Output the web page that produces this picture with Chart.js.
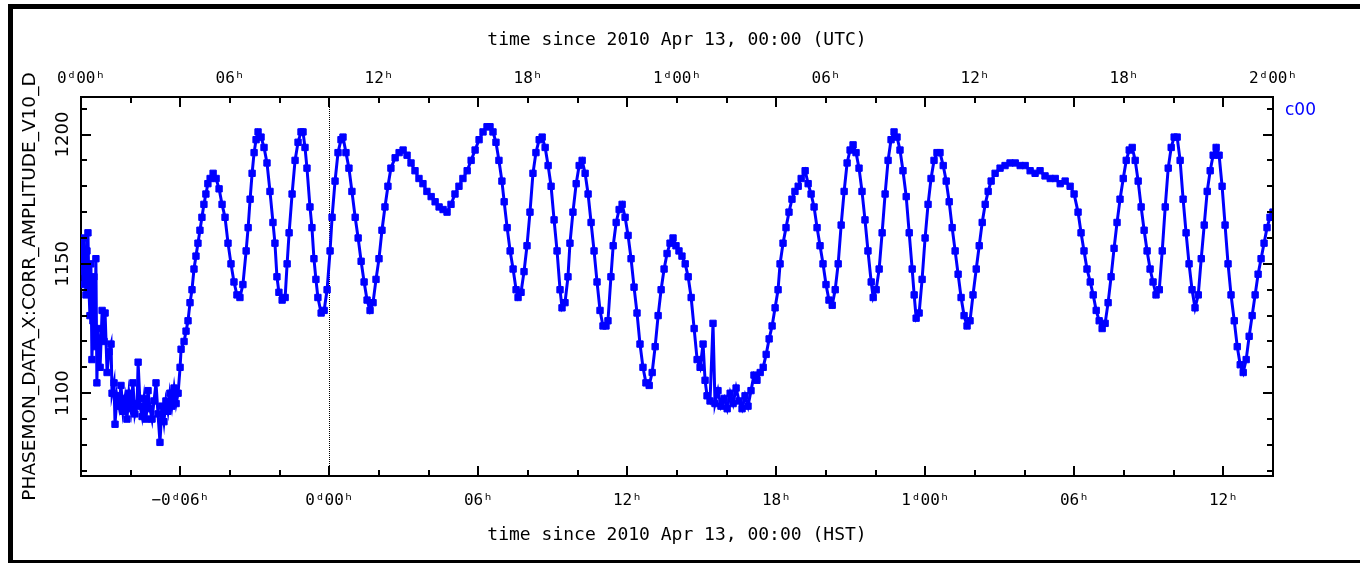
<!DOCTYPE html>
<html>
<head>
<meta charset="utf-8">
<title>PHASEMON c00 amplitude</title>
<script src="https://cdn.jsdelivr.net/npm/chart.js@4/dist/chart.umd.min.js"></script>
<style>
  html, body { margin: 0; padding: 0; background: #fff; overflow: hidden; width: 1360px; height: 563px; }
  #frame { position: absolute; left: 8px; top: 4px; width: 1360px; height: 561px; border: 5px solid #000; box-sizing: border-box; }
  #wrap { position: relative; width: 1350px; height: 551px; }
</style>
</head>
<body>
<div id="frame"><div id="wrap"><canvas id="ampChart"></canvas></div></div>
<script>
// hours since 2010 Apr 13 00:00 HST
const hstHours = [
  -10.00, -9.96, -9.92, -9.88, -9.84, -9.80, -9.76, -9.72, -9.68, -9.64,
  -9.60, -9.56, -9.52, -9.48, -9.44, -9.40, -9.36, -9.32, -9.23, -9.15,
  -9.07, -9.03, -8.95, -8.87, -8.79, -8.75, -8.67, -8.63, -8.55, -8.47,
  -8.39, -8.31, -8.23, -8.15, -8.07, -7.99, -7.91, -7.83, -7.74, -7.70,
  -7.62, -7.54, -7.46, -7.38, -7.30, -7.22, -7.14, -7.06, -6.98, -6.90,
  -6.82, -6.74, -6.66, -6.58, -6.50, -6.42, -6.34, -6.25, -6.17, -6.09,
  -6.01,
  -5.97, -5.85, -5.77, -5.69, -5.61, -5.53, -5.45, -5.37, -5.29, -5.21,
  -5.13, -5.05, -4.97, -4.89, -4.80, -4.68, -4.56, -4.44, -4.32, -4.20,
  -4.08, -3.96, -3.84, -3.72, -3.60, -3.48, -3.35, -3.27, -3.19, -3.11,
  -3.03, -2.95, -2.87, -2.75, -2.63, -2.51, -2.39, -2.27, -2.19, -2.11,
  -2.03, -1.90, -1.78, -1.70, -1.62, -1.50, -1.38, -1.26, -1.14, -1.06,
  -0.98, -0.90, -0.78, -0.70, -0.62, -0.54, -0.46, -0.33, -0.21, -0.09,
  0.03, 0.11, 0.23, 0.35, 0.47, 0.55, 0.67, 0.79, 0.91, 1.04,
  1.16, 1.28, 1.40, 1.52, 1.64, 1.76, 1.88, 2.00, 2.12, 2.24,
  2.36, 2.48, 2.65, 2.81, 2.97, 3.13, 3.29, 3.45, 3.61, 3.77,
  3.93, 4.10, 4.26, 4.42, 4.58, 4.74, 4.90, 5.06, 5.22, 5.38,
  5.55, 5.71, 5.87, 6.03, 6.19, 6.35,
  6.47, 6.59, 6.71, 6.83, 6.95, 7.04, 7.16, 7.28, 7.40, 7.52,
  7.60, 7.72, 7.84, 7.96, 8.08, 8.20, 8.32, 8.45, 8.57, 8.69,
  8.81, 8.93, 9.05, 9.17, 9.29, 9.37, 9.49, 9.61, 9.69, 9.81,
  9.94, 10.06, 10.18, 10.30, 10.42, 10.54, 10.66, 10.78, 10.90, 11.02,
  11.14, 11.22, 11.34, 11.43, 11.55, 11.67, 11.79, 11.91, 12.03, 12.15,
  12.27, 12.39, 12.51, 12.63, 12.75, 12.88, 13.00, 13.12, 13.24, 13.36,
  13.48, 13.60, 13.72, 13.84, 13.96, 14.08, 14.20, 14.33, 14.45, 14.57,
  14.69, 14.81, 14.93,
  15.05, 15.13, 15.21, 15.33, 15.45, 15.53, 15.65, 15.77, 15.90, 16.02,
  16.14, 16.26, 16.38, 16.50, 16.62, 16.74, 16.86, 16.98, 17.10, 17.22,
  17.35, 17.47, 17.59, 17.71, 17.83, 17.95, 18.07, 18.15, 18.27, 18.39,
  18.51, 18.63, 18.75, 18.88, 19.00,
  19.16, 19.28, 19.40, 19.52, 19.64, 19.76, 19.88, 20.00, 20.12, 20.25,
  20.37, 20.49, 20.61, 20.73, 20.85, 20.97, 21.09, 21.21, 21.33, 21.45,
  21.57, 21.69, 21.82, 21.90, 22.02, 22.14, 22.26, 22.38, 22.50, 22.62,
  22.74, 22.86, 22.98, 23.10, 23.23, 23.35, 23.47, 23.55, 23.63, 23.75,
  23.87, 23.99, 24.11, 24.23, 24.35, 24.47, 24.59, 24.72, 24.84, 24.96,
  25.08, 25.20, 25.32, 25.44, 25.56, 25.68, 25.80, 25.92, 26.05, 26.17,
  26.29, 26.41, 26.53, 26.65, 26.81,
  27.01, 27.21, 27.41, 27.62, 27.82, 28.02, 28.22, 28.42, 28.62, 28.82,
  29.03, 29.23, 29.43, 29.63, 29.83, 29.99, 30.15, 30.27, 30.39, 30.51,
  30.64, 30.76, 30.88, 31.00, 31.12, 31.24, 31.36, 31.48, 31.60, 31.72,
  31.84, 31.97, 32.09, 32.21, 32.33, 32.45, 32.57, 32.69, 32.81, 32.93,
  33.05, 33.17, 33.29, 33.42, 33.54, 33.66, 33.78, 33.90, 34.02, 34.14,
  34.26, 34.38, 34.50, 34.62, 34.74, 34.86, 34.99, 35.11, 35.23, 35.35,
  35.47, 35.59, 35.71, 35.83, 35.95, 36.07, 36.19, 36.31, 36.44, 36.56,
  36.68, 36.80, 36.92, 37.04, 37.16, 37.28, 37.40, 37.52, 37.64, 37.76,
  37.88, 38.00
];

// CORR_AMPLITUDE_V10_D for channel c00
const amplitude = [
  1150, 1158, 1142, 1160, 1147, 1138, 1155, 1162, 1140, 1130,
  1150, 1113, 1128, 1145, 1118, 1152, 1104, 1125, 1110, 1132,
  1120, 1131, 1108, 1116, 1119, 1100, 1104, 1088, 1099, 1095,
  1103, 1093, 1098, 1090, 1100, 1094, 1104, 1092, 1096, 1112,
  1095, 1091, 1098, 1090, 1101, 1094, 1090, 1097, 1104, 1092,
  1081, 1095, 1089, 1097, 1093, 1100, 1095, 1102, 1096, 1100,
  1110,
  1117, 1120, 1124, 1128, 1135, 1140, 1148, 1153, 1158, 1163,
  1168, 1173, 1177, 1181, 1183, 1185, 1183, 1179, 1173, 1168,
  1158, 1150, 1143, 1138, 1137, 1142, 1155, 1164, 1175, 1185,
  1193, 1198, 1201, 1199, 1195, 1189, 1178, 1166, 1158, 1145,
  1139, 1136, 1137, 1150, 1162, 1177, 1190, 1197, 1201, 1201,
  1195, 1187, 1172, 1164, 1152, 1144, 1137, 1131, 1132, 1140,
  1155, 1168, 1182, 1193, 1198, 1199, 1193, 1187, 1178, 1168,
  1160, 1151, 1143, 1136, 1132, 1135, 1144, 1152, 1163, 1172,
  1180, 1187, 1191, 1193, 1194, 1192, 1189, 1186, 1183, 1181,
  1178, 1176, 1174, 1172, 1171, 1170, 1173, 1177, 1180, 1183,
  1186, 1190, 1194, 1198, 1201, 1203,
  1203, 1201, 1197, 1190, 1182, 1174, 1164, 1155, 1148, 1140,
  1137, 1139, 1147, 1157, 1170, 1185, 1193, 1198, 1199, 1195,
  1188, 1180, 1167, 1155, 1140, 1133, 1135, 1145, 1158, 1170,
  1181, 1188, 1190, 1185, 1177, 1166, 1155, 1143, 1132, 1126,
  1126, 1128, 1145, 1157, 1166, 1171, 1173, 1168, 1161, 1152,
  1141, 1131, 1119, 1110, 1104, 1103, 1108, 1118, 1130, 1140,
  1148, 1154, 1158, 1160, 1157, 1155, 1153, 1150, 1145, 1137,
  1125, 1113, 1110,
  1119, 1105, 1099, 1097, 1127, 1096, 1101, 1095, 1098, 1094,
  1100, 1096, 1102, 1097, 1094, 1099, 1095, 1101, 1107, 1105,
  1108, 1110, 1115, 1121, 1126, 1133, 1140, 1150, 1158, 1164,
  1170, 1175, 1178, 1180, 1183,
  1186, 1181, 1177, 1172, 1164, 1157, 1150, 1142, 1136, 1134,
  1140, 1150, 1165, 1178, 1189, 1194, 1196, 1193, 1187, 1178,
  1167, 1155, 1143, 1137, 1140, 1148, 1162, 1177, 1190, 1198,
  1201, 1199, 1194, 1186, 1176, 1162, 1148, 1138, 1129, 1131,
  1144, 1160, 1173, 1183, 1190, 1193, 1193, 1188, 1182, 1174,
  1164, 1155, 1146, 1137, 1130, 1126, 1128, 1138, 1148, 1157,
  1166, 1173, 1178, 1182, 1185,
  1187, 1188, 1189, 1189, 1188, 1188, 1186, 1185, 1186, 1184,
  1183, 1183, 1181, 1182, 1180, 1177, 1170, 1162, 1155, 1148,
  1143, 1138, 1132, 1128, 1125, 1127, 1135, 1145, 1156, 1166,
  1175, 1183, 1190, 1194, 1195, 1190, 1182, 1172, 1163, 1155,
  1148, 1143, 1138, 1140, 1155, 1172, 1187, 1195, 1199, 1199,
  1190, 1175, 1162, 1150, 1140, 1133, 1138, 1152, 1165, 1178,
  1186, 1192, 1195, 1192, 1180, 1165, 1150, 1138, 1128, 1118,
  1111, 1108, 1113, 1122, 1130, 1138, 1146, 1152, 1158, 1164,
  1168, 1170
];

const seriesName = 'c00';
const markerHour = 0;   // HST midnight

// labelled hours on the bottom (HST) and top (UTC) axes
const hstTickHours = [-6, 0, 6, 12, 18, 24, 30, 36];
const hstTickLabels = ['\u22120\u1d4806\u02b0', '0\u1d4800\u02b0', '06\u02b0', '12\u02b0', '18\u02b0', '1\u1d4800\u02b0', '06\u02b0', '12\u02b0'];
const utcTickHours = [0, 6, 12, 18, 24, 30, 36, 42, 48];
const utcTickLabels = ['0\u1d4800\u02b0', '06\u02b0', '12\u02b0', '18\u02b0', '1\u1d4800\u02b0', '06\u02b0', '12\u02b0', '18\u02b0', '2\u1d4800\u02b0'];
const ampTickValues = [1100, 1150, 1200];

const BLUE = 'rgb(0,0,255)';

// inward tick marks on all four sides, right edge line, midnight marker, series name
const axisDecor = {
  id: 'axisDecor',
  beforeDatasetsDraw(chart) {
    const { ctx, chartArea: a, scales: { x } } = chart;
    const mx = Math.round(x.getPixelForValue(markerHour)) + 0.5;
    ctx.save();
    ctx.strokeStyle = '#000';
    ctx.lineWidth = 1;
    ctx.setLineDash([1, 1]);
    ctx.beginPath();
    ctx.moveTo(mx, a.top);
    ctx.lineTo(mx, a.bottom);
    ctx.stroke();
    ctx.restore();
  },
  afterDatasetsDraw(chart) {
    const { ctx, chartArea: a, scales: { x, y } } = chart;
    ctx.save();
    ctx.strokeStyle = '#000';
    ctx.lineWidth = 2;
    ctx.beginPath();
    x.ticks.forEach(t => {
      const px = Math.round(x.getPixelForValue(t.value));
      const len = t.value % 6 === 0 ? 10 : 6;
      ctx.moveTo(px, a.bottom); ctx.lineTo(px, a.bottom - len);
      ctx.moveTo(px, a.top); ctx.lineTo(px, a.top + len);
    });
    y.ticks.forEach(t => {
      const py = Math.round(y.getPixelForValue(t.value));
      const len = t.value % 50 === 0 ? 10 : 6;
      ctx.moveTo(a.left, py); ctx.lineTo(a.left + len, py);
      ctx.moveTo(a.right, py); ctx.lineTo(a.right - len, py);
    });
    ctx.moveTo(a.right, a.top - 1);
    ctx.lineTo(a.right, a.bottom + 1);
    ctx.stroke();

    ctx.fillStyle = BLUE;
    ctx.font = '17px "DejaVu Sans"';
    ctx.textAlign = 'left';
    ctx.textBaseline = 'middle';
    ctx.fillText(chart.data.datasets[0].label, a.right + 12, a.top + 14);
    ctx.restore();
  }
};

const tickFont = { family: '"DejaVu Sans Mono", "DejaVu Sans"', size: 16 };
const titleFont = { family: '"DejaVu Sans Mono"', size: 18 };

new Chart(document.getElementById('ampChart'), {
  type: 'line',
  data: {
    datasets: [{
      label: seriesName,
      data: hstHours.map((h, i) => ({ x: h, y: amplitude[i] })),
      borderColor: BLUE,
      backgroundColor: BLUE,
      borderWidth: 3,
      pointStyle: 'rect',
      pointRadius: 4.5,
      pointBorderWidth: 1,
      pointBackgroundColor: BLUE,
      pointBorderColor: BLUE,
      tension: 0
    }]
  },
  options: {
    responsive: true,
    maintainAspectRatio: false,
    animation: false,
    events: [],
    layout: { padding: { left: 0, top: 0, right: 90, bottom: 0 } },
    plugins: { legend: { display: false }, tooltip: { enabled: false } },
    scales: {
      x: {
        type: 'linear',
        position: 'bottom',
        min: -10, max: 38,
        grid: { display: false },
        border: { display: true, color: '#000', width: 2 },
        ticks: {
          stepSize: 2, autoSkip: false, maxRotation: 0, padding: 7,
          color: '#000', font: tickFont,
          callback: v => { const i = hstTickHours.indexOf(v); return i >= 0 ? hstTickLabels[i] : ''; }
        },
        title: {
          display: true, text: 'time since 2010 Apr 13, 00:00 (HST)',
          color: '#000', font: titleFont, padding: { top: 0, bottom: 14 }
        },
        afterFit: s => { s.height = 84; s.paddingLeft = 0; s.paddingRight = 0; }
      },
      x2: {
        type: 'linear',
        axis: 'x',
        position: 'top',
        min: 0, max: 48,
        grid: { display: false },
        border: { display: true, color: '#000', width: 2 },
        ticks: {
          stepSize: 2, autoSkip: false, maxRotation: 0, padding: 1,
          color: '#000', font: tickFont,
          callback: v => { const i = utcTickHours.indexOf(v); return i >= 0 ? utcTickLabels[i] : ''; }
        },
        title: {
          display: true, text: 'time since 2010 Apr 13, 00:00 (UTC)',
          color: '#000', font: titleFont, padding: { top: 21, bottom: 0 }
        },
        afterFit: s => { s.height = 88; s.paddingLeft = 0; s.paddingRight = 0; }
      },
      y: {
        type: 'linear',
        position: 'left',
        min: 1068, max: 1214.5,
        grid: { display: false },
        border: { display: true, color: '#000', width: 2 },
        ticks: {
          stepSize: 10, includeBounds: false, autoSkip: false,
          minRotation: 90, maxRotation: 90, crossAlign: 'center', padding: -13,
          color: '#000', font: { family: '"DejaVu Sans"', size: 18 },
          callback: v => ampTickValues.includes(v) ? String(v) : ''
        },
        title: {
          display: true, text: 'PHASEMON_DATA_X:CORR_AMPLITUDE_V10_D',
          color: '#000', font: { family: '"DejaVu Sans"', size: 18.5 }, padding: { top: 6, bottom: 0 }
        },
        afterFit: s => { s.width = 68; s.paddingTop = 0; s.paddingBottom = 0; }
      }
    }
  },
  plugins: [axisDecor]
});
</script>
</body>
</html>
